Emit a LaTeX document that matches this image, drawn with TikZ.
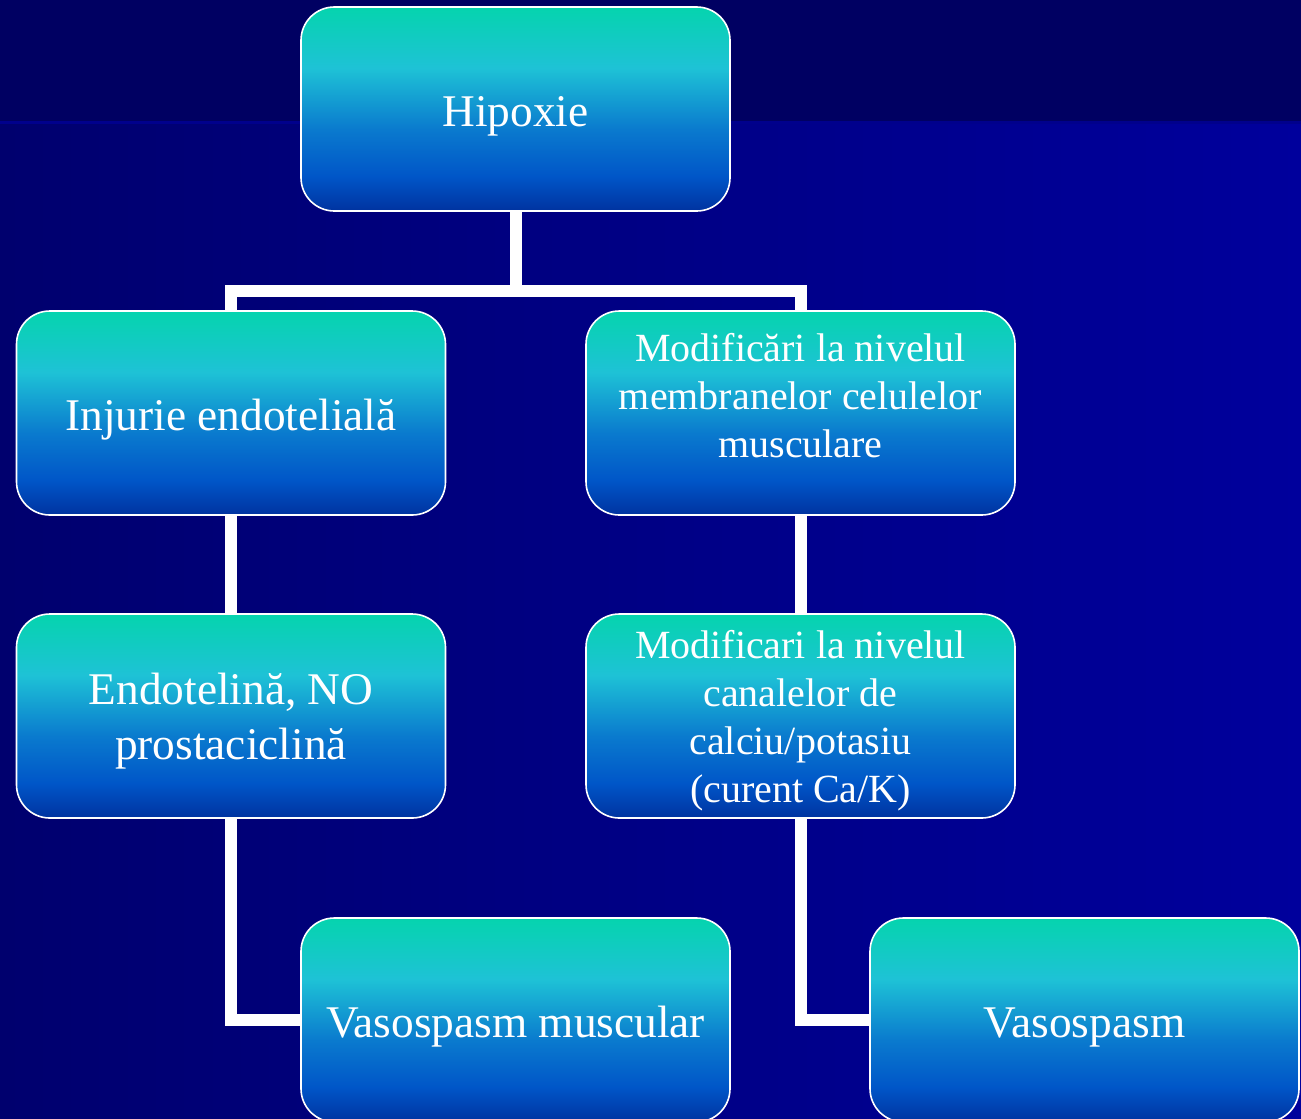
\documentclass[tikz,border=0pt]{standalone}
\usepackage{fontspec}
\setmainfont{Liberation Serif}
\usepackage{xcolor}
\usepackage{tikz}
\usetikzlibrary{positioning}
\definecolor{bgtop}{HTML}{000062}
\definecolor{bgleft}{HTML}{00006E}
\definecolor{bgright}{HTML}{00009C}
\definecolor{bgline}{HTML}{00008C}
\definecolor{boxbot}{HTML}{0033A0}
\definecolor{boxlow}{HTML}{0056C8}
\definecolor{boxmid}{HTML}{0A7ACE}
\definecolor{boxcyan}{HTML}{1EC2D6}
\definecolor{boxtop}{HTML}{05D4AE}
\pgfdeclareverticalshading{boxshade}{100bp}{color(0bp)=(boxbot); color(25bp)=(boxbot); color(33.5bp)=(boxlow); color(45bp)=(boxmid); color(60bp)=(boxcyan); color(75bp)=(boxtop); color(100bp)=(boxtop)}
\pgfdeclarelayer{back}
\pgfdeclarelayer{wires}
\pgfsetlayers{back,wires,main}

\begin{document}
\begin{tikzpicture}[
    x=0.75pt, y=-0.75pt,
    step box/.style={rectangle, rounded corners=25pt, shading=boxshade, draw=white, line width=1.2pt,
        minimum width=321.75pt, minimum height=153pt, inner sep=0pt, align=center, text=white,
        font=\fontsize{34}{41}\selectfont, execute at begin node={\rule{0pt}{33pt}}},
    long box/.style={step box, font=\fontsize{30}{36}\selectfont},
    link/.style={draw=white, line width=9pt}
]
\useasboundingbox (0,0) rectangle (1301,1118);

% boxes
\node[step box] (hip) at (515.5,109) {Hipoxie};
\node[step box] (inj) at (231,413) {Injurie endotelială};
\node[long box, execute at begin node={}, execute at end node={\rule[-27pt]{0pt}{27pt}}] (mod) at (800.5,413)
    {Modificări la nivelul\\membranelor celulelor\\musculare};
\node[step box, execute at begin node={\rule{0pt}{72pt}}] (endo) at (231,716) {Endotelină, NO\\prostaciclină};
\node[long box, execute at begin node={\rule{0pt}{136pt}}] (can) at (800.5,716)
    {Modificari la nivelul\\canalelor de\\calciu/potasiu\\(curent Ca/K)};
\node[step box] (vmus) at (515.5,1020) {Vasospasm muscular};
\node[step box] (vsp) at (1084.5,1020) {Vasospasm};

% background
\begin{pgfonlayer}{back}
\shade[left color=bgleft, right color=bgright] (0,122) rectangle (1301,1118);
\fill[bgtop] (0,0) rectangle (1301,123);
\fill[bgline] (0,121) rectangle (1301,124);
\end{pgfonlayer}

% connectors
\begin{pgfonlayer}{wires}
\draw[link] (hip.south) -- ++(0,79) -| (inj.north);
\draw[link] (hip.south) -- ++(0,79) -| (mod.north);
\draw[link] (inj.south) -- (endo.north);
\draw[link] (mod.south) -- (can.north);
\draw[link] (endo.south) |- (vmus.west);
\draw[link] (can.south) |- (vsp.west);
\end{pgfonlayer}
\end{tikzpicture}
\end{document}
